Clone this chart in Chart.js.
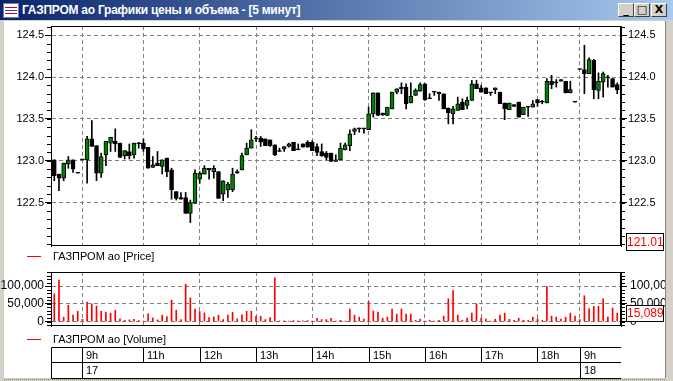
<!doctype html>
<html lang="ru">
<head>
<meta charset="utf-8">
<title>ГАЗПРОМ ао Графики цены и объема</title>
<script src="https://cdn.jsdelivr.net/npm/chart.js@4.4.0/dist/chart.umd.min.js"></script>
<style>
  body { margin: 0; width: 673px; height: 381px; overflow: hidden; position: relative;
         background: #d4d0c8; font-family: "Liberation Sans", Arial, sans-serif; }
  #titlebar { position: absolute; left: 0; top: 0; width: 673px; height: 20px;
              background: linear-gradient(to right, #0a246a, #a6caf0); }
  #titlebar .txt { position: absolute; left: 22px; top: 3px; color: #fff; font-weight: bold; font-size: 12px;
                   letter-spacing: -0.25px; white-space: nowrap; }
  #icon { position: absolute; left: 3px; top: 3px; width: 14px; height: 13px; background: #fff; border: 1px solid #6a80b0; }
  #icon i { position: absolute; left: 1px; right: 1px; height: 1px; background: #d00000; }
  .btn { position: absolute; top: 3px; width: 14px; height: 12px; background: #d4d0c8;
         border-top: 1px solid #fff; border-left: 1px solid #fff; border-right: 1px solid #404040; border-bottom: 1px solid #404040;
         font: bold 11px "DejaVu Sans", sans-serif; text-align: center; line-height: 12px; color: #000; }
  #client { position: absolute; left: 4px; top: 21px; width: 661px; height: 357px; background: #fff;
            border-right: 1px solid #808080; }
  #bottomline { position: absolute; left: 4px; top: 379px; width: 661px; border-top: 1px dotted #808080; }
  canvas { position: absolute; left: 0; top: 0; }
  .legend { position: absolute; left: 27px; height: 14px; padding-left: 26px; font-size: 11px; line-height: 14px;
            color: #000; white-space: nowrap; }
  .legend b { position: absolute; left: 0; top: 7px; width: 14px; height: 1px; background: #ff0000; }
  .lastbox { position: absolute; left: 626px; width: 36px; border: 1px solid #000; background: #fff;
             color: #ff0000; font-size: 12px; text-align: center; }
</style>
</head>
<body>
<div id="titlebar">
  <div id="icon"><i style="top:3px"></i><i style="top:6px;background:#2040c0"></i><i style="top:9px"></i></div>
  <div class="txt">ГАЗПРОМ ао Графики цены и объема - [5 минут]</div>
  <div class="btn" style="left:618px">_</div>
  <div class="btn" style="left:634px">□</div>
  <div class="btn" style="left:651px">X</div>
</div>
<div id="client"></div>
<div id="bottomline"></div>
<canvas id="priceChart" width="673" height="262"></canvas>
<canvas id="volChart" width="673" height="381"></canvas>
<div class="legend" style="top:249px"><b></b>ГАЗПРОМ ао [Price]</div>
<div class="legend" style="top:332px"><b></b>ГАЗПРОМ ао [Volume]</div>
<div class="lastbox" style="top:233px;height:16px;line-height:16px" id="lastPrice"></div>
<div class="lastbox" style="top:305px;height:15px;line-height:15px" id="lastVol"></div>
<script>
// 5-minute bars, 17th (from the morning) to the 18th
const openP = [
  123.01,122.84,122.79,122.96,123.01,122.85,123.01,123.01,123.26,123.18,
  122.85,123.07,123.21,123.23,123.21,123.06,123.11,123.07,123.20,123.21,
  123.16,122.92,122.97,122.93,123.03,122.89,122.63,122.56,122.56,122.37,
  122.49,122.78,122.84,122.91,122.87,122.87,122.60,122.65,122.65,122.87,
  122.89,123.07,123.15,123.26,123.27,123.26,123.25,123.19,123.11,123.14,
  123.17,123.22,123.13,123.20,123.22,123.22,123.17,123.11,123.09,123.09,
  122.99,123.01,123.13,123.18,123.35,123.38,123.38,123.37,123.56,123.81,
  123.57,123.54,123.62,123.82,123.88,123.88,123.69,123.78,123.83,123.92,
  123.74,123.82,123.82,123.80,123.63,123.56,123.60,123.70,123.66,123.72,
  123.92,123.87,123.87,123.81,123.85,123.82,123.69,123.61,123.67,123.70,
  123.55,123.64,123.64,123.73,123.70,123.69,123.95,123.93,123.97,123.95,
  123.81,123.70,124.09,124.09,124.04,124.20,123.84,123.94,123.99,123.98,
  123.91];
const highP = [
  123.01,122.84,122.97,123.05,123.01,122.85,123.01,123.29,123.48,123.18,
  123.09,123.23,123.28,123.38,123.21,123.12,123.20,123.21,123.22,123.26,
  123.16,123.05,123.11,123.01,123.03,122.91,122.63,122.62,122.62,122.53,
  122.89,122.87,122.94,122.91,122.94,122.87,122.76,122.74,122.91,122.89,
  123.09,123.21,123.37,123.29,123.29,123.26,123.25,123.19,123.15,123.17,
  123.21,123.22,123.20,123.20,123.24,123.24,123.20,123.20,123.11,123.09,
  123.07,123.21,123.21,123.37,123.39,123.39,123.38,123.64,123.81,123.81,
  123.57,123.64,123.82,123.86,123.93,123.92,123.93,123.86,123.93,123.92,
  123.80,123.82,123.82,123.80,123.63,123.65,123.76,123.74,123.76,123.96,
  123.96,123.90,123.87,123.81,123.87,123.82,123.69,123.69,123.67,123.70,
  123.64,123.64,123.72,123.73,123.72,123.98,124.02,123.97,123.97,123.95,
  123.95,123.70,124.09,124.38,124.23,124.21,124.05,124.06,124.02,123.98,
  123.93];
const lowP = [
  122.76,122.64,122.76,122.91,122.86,122.85,123.01,122.73,123.17,122.76,
  122.80,122.94,123.11,123.11,123.04,123.02,123.02,123.03,123.15,123.11,
  122.91,122.92,122.94,122.84,122.81,122.54,122.53,122.54,122.37,122.26,
  122.49,122.73,122.84,122.78,122.79,122.55,122.52,122.56,122.63,122.85,
  122.89,123.07,123.15,123.23,123.17,123.18,123.17,123.06,123.11,123.11,
  123.16,123.12,123.13,123.16,123.16,123.12,123.06,123.05,123.01,122.99,
  122.99,123.01,123.13,123.12,123.31,123.34,123.33,123.37,123.52,123.54,
  123.54,123.54,123.62,123.80,123.80,123.62,123.69,123.78,123.83,123.72,
  123.74,123.78,123.72,123.62,123.44,123.44,123.60,123.61,123.62,123.72,
  123.86,123.82,123.80,123.78,123.80,123.68,123.49,123.61,123.65,123.52,
  123.55,123.53,123.64,123.65,123.68,123.69,123.86,123.88,123.95,123.81,
  123.81,123.70,124.09,123.80,124.04,123.74,123.74,123.76,123.88,123.88,
  123.80];
const closeP = [
  122.82,122.79,122.97,123.01,122.90,122.85,123.01,123.26,123.17,122.85,
  123.05,123.23,123.28,123.20,123.04,123.12,123.06,123.21,123.20,123.14,
  122.91,122.95,122.94,123.01,122.87,122.65,122.55,122.54,122.37,122.50,
  122.85,122.85,122.91,122.89,122.91,122.55,122.76,122.72,122.84,122.85,
  123.06,123.15,123.25,123.26,123.22,123.18,123.18,123.07,123.11,123.17,
  123.20,123.12,123.13,123.16,123.16,123.12,123.10,123.06,123.04,122.99,
  123.01,123.15,123.19,123.32,123.38,123.38,123.38,123.56,123.81,123.54,
  123.55,123.64,123.82,123.86,123.86,123.68,123.77,123.84,123.91,123.73,
  123.74,123.82,123.80,123.62,123.57,123.62,123.68,123.61,123.72,123.92,
  123.86,123.82,123.80,123.81,123.87,123.68,123.62,123.69,123.65,123.52,
  123.64,123.64,123.68,123.69,123.70,123.95,123.91,123.93,123.95,123.81,
  123.85,123.70,124.09,124.04,124.21,123.85,123.95,124.04,123.99,123.88,
  123.85];
const volume = [
  78300,117000,12300,46200,18000,29000,6600,54700,50000,44000,
  29000,27000,23600,32000,7500,3800,4700,6600,2800,1500,
  21700,10400,4700,18000,14000,60400,32000,5700,105700,67000,
  35000,28300,24500,11300,13200,18000,5700,18000,26400,7500,
  18900,29000,29000,15000,15000,5700,11300,123600,1900,1900,
  1000,2800,1900,1900,2800,1500,9400,5700,5700,9400,
  1000,3800,1000,35600,18300,12500,6700,56700,29800,26900,
  9600,12500,35600,21000,35600,21000,21000,3800,6700,1500,
  3800,1000,3800,15400,64400,87500,18300,3800,9600,24000,
  50000,9600,6700,1000,6700,18300,24000,6700,3800,9600,
  3800,3800,12500,7700,3800,99000,15400,12500,6700,12500,
  24000,15400,5800,73000,36500,43000,43000,64400,12500,38500,
  24000];

// bar index where each hour starts, and its label
const hourIdx = [6, 19, 31, 43, 55, 67, 79, 91, 103, 112];
const hourLabels = ['9h', '11h', '12h', '13h', '14h', '15h', '16h', '17h', '18h', '9h'];
// day labels: bar index where the day cell starts
const dayIdx = [6, 112];
const dayLabels = ['17', '18'];

// labelled values on the two value axes
const priceTicks = [122.5, 123.0, 123.5, 124.0, 124.5];
const volTicks = [0, 50000, 100000];

const lastPriceLabel = '121.01';
const lastVolLabel = '15,089';

document.getElementById('lastPrice').textContent = lastPriceLabel;
document.getElementById('lastVol').textContent = lastVolLabel;

const GRID = '#808080';
const DASH = [4, 3];

// small unlabelled ticks between the labelled ones
const minorTicks = {
  id: 'minorTicks',
  afterDraw(chart, args, opts) {
    const ctx = chart.ctx;
    ctx.save();
    ctx.strokeStyle = '#000';
    ctx.lineWidth = 1;
    ['y', 'y2'].forEach(id => {
      const s = chart.scales[id];
      const left = s.position === 'left';
      const x0 = left ? chart.chartArea.left : chart.chartArea.right;
      const n0 = Math.ceil(s.min / opts.step);
      const n1 = Math.floor(s.max / opts.step);
      for (let n = n0; n <= n1; n++) {
        const y = Math.round(s.getPixelForValue(n * opts.step)) + 0.5;
        ctx.beginPath();
        ctx.moveTo(x0, y);
        ctx.lineTo(left ? x0 - 4 : x0 + 4, y);
        ctx.stroke();
      }
    });
    ctx.restore();
  }
};

// black box around the plot
const frame = {
  id: 'frame',
  afterDraw(chart) {
    const a = chart.chartArea, ctx = chart.ctx;
    ctx.save();
    ctx.strokeStyle = '#000';
    ctx.lineWidth = 1;
    ctx.strokeRect(Math.round(a.left) + 0.5, Math.round(a.top) + 0.5,
                   Math.round(a.right - a.left) - 1, Math.round(a.bottom - a.top) - 1);
    ctx.restore();
  }
};

// time table under the volume panel, drawn from the x scale
const timeTable = {
  id: 'timeTable',
  afterDraw(chart) {
    const ctx = chart.ctx, a = chart.chartArea, xs = chart.scales.x;
    const t0 = Math.round(a.bottom) + 21.5, t1 = t0 + 15, t2 = t0 + 31;
    const l = Math.round(a.left) + 0.5, r = Math.round(a.right);
    ctx.save();
    ctx.strokeStyle = '#000';
    ctx.lineWidth = 1;
    ctx.beginPath();
    [t0, t1, t2].forEach(y => { ctx.moveTo(l, y); ctx.lineTo(r, y); });
    ctx.moveTo(l, t0); ctx.lineTo(l, t2);
    hourIdx.forEach(i => {
      const x = Math.round(xs.getPixelForValue(i)) + 0.5;
      ctx.moveTo(x, t0); ctx.lineTo(x, t1);
    });
    dayIdx.forEach(i => {
      const x = Math.round(xs.getPixelForValue(i)) + 0.5;
      ctx.moveTo(x, t1); ctx.lineTo(x, t2);
    });
    ctx.stroke();
    ctx.fillStyle = '#000';
    ctx.font = '11px "Liberation Sans", Arial, sans-serif';
    ctx.textBaseline = 'middle';
    hourIdx.forEach((i, k) => {
      ctx.fillText(hourLabels[k], Math.round(xs.getPixelForValue(i)) + 4, t0 + 8);
    });
    dayIdx.forEach((i, k) => {
      ctx.fillText(dayLabels[k], Math.round(xs.getPixelForValue(i)) + 4, t1 + 8);
    });
    ctx.restore();
  }
};

const xAxis = () => ({
  type: 'linear',
  min: -0.7,
  max: 120.8,
  offset: false,
  afterBuildTicks: s => { s.ticks = hourIdx.map(v => ({ value: v })); },
  afterFit: s => { s.height = 0; },
  ticks: { display: false },
  grid: { color: GRID, drawTicks: false, offset: false },
  border: { display: false, dash: DASH }
});

const yAxis = (pos, min, max, tickVals, fmt, size, width, pad) => ({
  position: pos,
  min: min,
  max: max,
  afterBuildTicks: s => { s.ticks = tickVals.map(v => ({ value: v })); },
  afterFit: s => { s.width = width; },
  ticks: { callback: fmt, color: '#000',
           font: { family: '"Liberation Sans", Arial, sans-serif', size: size }, padding: pad },
  grid: { color: GRID, tickColor: '#000', tickLength: 6, drawOnChartArea: pos === 'left' },
  border: { color: '#000', dash: DASH }
});

Chart.defaults.font.family = '"Liberation Sans", Arial, sans-serif';

const bodies = openP.map((o, i) => ({ x: i, y: [o, closeP[i]] }));
const wicks = lowP.map((l, i) => ({ x: i, y: [l, highP[i]] }));
const bodyColor = openP.map((o, i) => closeP[i] > o ? '#008000' : '#000000');

new Chart(document.getElementById('priceChart'), {
  type: 'bar',
  data: {
    datasets: [
      { label: 'body', data: bodies, backgroundColor: bodyColor, borderColor: '#000', borderWidth: 1,
        borderSkipped: false, barThickness: 4, minBarLength: 1, grouped: false, order: 0 },
      { label: 'wick', data: wicks, backgroundColor: '#000', borderWidth: 0,
        barThickness: 1, grouped: false, order: 1 }
    ]
  },
  options: {
    responsive: false,
    animation: false,
    layout: { padding: { top: 26, bottom: 16, left: 0, right: 8 } },
    plugins: { legend: { display: false }, tooltip: { enabled: false }, minorTicks: { step: 0.1 } },
    scales: {
      x: xAxis(),
      y: yAxis('left', 121.98, 124.61, priceTicks, v => v.toFixed(1), 11, 51, 1),
      y2: yAxis('right', 121.98, 124.61, priceTicks, v => v.toFixed(1), 11, 44, 1)
    }
  },
  plugins: [minorTicks, frame]
});

const fmtVol = v => v.toLocaleString('en-US');

new Chart(document.getElementById('volChart'), {
  type: 'bar',
  data: {
    datasets: [
      { label: 'ГАЗПРОМ ао [Volume]', data: volume.map((v, i) => ({ x: i, y: v })),
        backgroundColor: '#ff0000', borderWidth: 0, barThickness: 1 }
    ]
  },
  options: {
    responsive: false,
    animation: false,
    layout: { padding: { top: 272, bottom: 55, left: 0, right: 8 } },
    plugins: { legend: { display: false }, tooltip: { enabled: false }, minorTicks: { step: 10000 } },
    scales: {
      x: xAxis(),
      y: yAxis('left', -12500, 140000, volTicks, fmtVol, 12, 51, 1),
      y2: yAxis('right', -12500, 140000, volTicks, fmtVol, 12, 44, 3)
    }
  },
  plugins: [minorTicks, frame, timeTable]
});
</script>
</body>
</html>
